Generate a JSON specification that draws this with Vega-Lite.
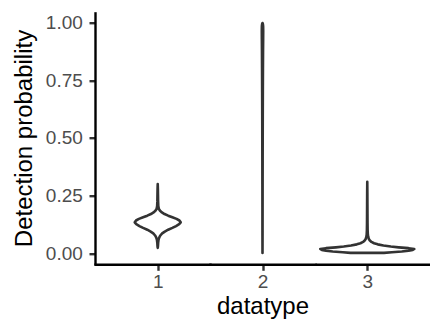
{
  "$schema": "https://vega.github.io/schema/vega-lite/v6.json",
  "padding": {"left": 12, "top": 11.7, "right": 0, "bottom": 0},
  "background": "white",
  "data": {"values": [
    {"datatype": 1, "value": 0.023, "density": 0.0},
    {"datatype": 1, "value": 0.03, "density": 0.004},
    {"datatype": 1, "value": 0.045, "density": 0.008},
    {"datatype": 1, "value": 0.058, "density": 0.015},
    {"datatype": 1, "value": 0.068, "density": 0.028},
    {"datatype": 1, "value": 0.077, "density": 0.05},
    {"datatype": 1, "value": 0.086, "density": 0.085},
    {"datatype": 1, "value": 0.094, "density": 0.135},
    {"datatype": 1, "value": 0.102, "density": 0.2},
    {"datatype": 1, "value": 0.11, "density": 0.28},
    {"datatype": 1, "value": 0.118, "density": 0.35},
    {"datatype": 1, "value": 0.126, "density": 0.41},
    {"datatype": 1, "value": 0.134, "density": 0.44},
    {"datatype": 1, "value": 0.142, "density": 0.415},
    {"datatype": 1, "value": 0.149, "density": 0.36},
    {"datatype": 1, "value": 0.156, "density": 0.28},
    {"datatype": 1, "value": 0.163, "density": 0.2},
    {"datatype": 1, "value": 0.17, "density": 0.13},
    {"datatype": 1, "value": 0.177, "density": 0.08},
    {"datatype": 1, "value": 0.184, "density": 0.045},
    {"datatype": 1, "value": 0.192, "density": 0.022},
    {"datatype": 1, "value": 0.205, "density": 0.011},
    {"datatype": 1, "value": 0.225, "density": 0.007},
    {"datatype": 1, "value": 0.255, "density": 0.005},
    {"datatype": 1, "value": 0.28, "density": 0.003},
    {"datatype": 1, "value": 0.3, "density": 0.0},
    {"datatype": 2, "value": 0.001, "density": 0.0},
    {"datatype": 2, "value": 0.1, "density": 0.0012},
    {"datatype": 2, "value": 0.2, "density": 0.0016},
    {"datatype": 2, "value": 0.3, "density": 0.0022},
    {"datatype": 2, "value": 0.4, "density": 0.003},
    {"datatype": 2, "value": 0.5, "density": 0.004},
    {"datatype": 2, "value": 0.6, "density": 0.005},
    {"datatype": 2, "value": 0.7, "density": 0.0065},
    {"datatype": 2, "value": 0.8, "density": 0.0085},
    {"datatype": 2, "value": 0.88, "density": 0.0105},
    {"datatype": 2, "value": 0.93, "density": 0.0125},
    {"datatype": 2, "value": 0.965, "density": 0.0135},
    {"datatype": 2, "value": 0.985, "density": 0.012},
    {"datatype": 2, "value": 0.995, "density": 0.007},
    {"datatype": 2, "value": 0.999, "density": 0.0},
    {"datatype": 3, "value": 0.0015, "density": 0.32},
    {"datatype": 3, "value": 0.004, "density": 0.47},
    {"datatype": 3, "value": 0.0075, "density": 0.66},
    {"datatype": 3, "value": 0.011, "density": 0.79},
    {"datatype": 3, "value": 0.0145, "density": 0.87},
    {"datatype": 3, "value": 0.0185, "density": 0.9},
    {"datatype": 3, "value": 0.022, "density": 0.79},
    {"datatype": 3, "value": 0.0255, "density": 0.6},
    {"datatype": 3, "value": 0.029, "density": 0.45},
    {"datatype": 3, "value": 0.0335, "density": 0.31},
    {"datatype": 3, "value": 0.0385, "density": 0.2},
    {"datatype": 3, "value": 0.0435, "density": 0.13},
    {"datatype": 3, "value": 0.049, "density": 0.08},
    {"datatype": 3, "value": 0.055, "density": 0.05},
    {"datatype": 3, "value": 0.062, "density": 0.03},
    {"datatype": 3, "value": 0.071, "density": 0.018},
    {"datatype": 3, "value": 0.081, "density": 0.011},
    {"datatype": 3, "value": 0.101, "density": 0.007},
    {"datatype": 3, "value": 0.131, "density": 0.005},
    {"datatype": 3, "value": 0.171, "density": 0.004},
    {"datatype": 3, "value": 0.211, "density": 0.003},
    {"datatype": 3, "value": 0.261, "density": 0.002},
    {"datatype": 3, "value": 0.31, "density": 0.0}
  ]},
  "spacing": 0,
  "resolve": {"scale": {"x": "independent", "y": "independent"}},
  "hconcat": [
    {
      "width": 115,
      "height": 252.6,
      "transform": [{"filter": "datum.datatype == 1"}],
      "mark": {"type": "area", "orient": "horizontal", "fill": "white", "fillOpacity": 1, "stroke": "#333333", "strokeWidth": 2.6, "strokeJoin": "round"},
      "encoding": {
        "y": {
          "field": "value",
          "type": "quantitative",
          "title": "Detection probability",
          "scale": {"domain": [-0.048, 1.048], "nice": false, "zero": false},
          "axis": {
            "values": [0, 0.25, 0.5, 0.75, 1],
            "format": ".2f",
            "grid": false,
            "domainColor": "black",
            "domainWidth": 2.4,
            "tickColor": "#333333",
            "tickWidth": 2.4,
            "tickSize": 6,
            "labelPadding": 6.7,
            "labelFont": "Liberation Sans",
            "labelFontSize": 19,
            "labelColor": "#4D4D4D",
            "titleFont": "Liberation Sans",
            "titleFontSize": 24,
            "titleFontWeight": "normal",
            "titleColor": "black",
            "titlePadding": 8.9
          }
        },
        "x": {
          "field": "density",
          "type": "quantitative",
          "stack": "center",
          "impute": null,
          "scale": {"domain": [-0.38, 0.72], "nice": false, "zero": false},
          "axis": {
            "values": [0.22],
            "labelExpr": "'1'",
            "title": null,
            "grid": false,
            "domainColor": "black",
            "domainWidth": 2.4,
            "domainCap": "square",
            "tickSize": 6,
            "tickWidth": 2.4,
            "tickColor": "#333333",
            "labelPadding": 2,
            "labelFont": "Liberation Sans",
            "labelFontSize": 19,
            "labelColor": "#4D4D4D"
          }
        }
      }
    },
    {
      "width": 105,
      "height": 252.6,
      "transform": [{"filter": "datum.datatype == 2"}],
      "mark": {"type": "area", "orient": "horizontal", "fill": "white", "fillOpacity": 1, "stroke": "#333333", "strokeWidth": 2.6, "strokeJoin": "round"},
      "encoding": {
        "y": {
          "field": "value",
          "type": "quantitative",
          "scale": {"domain": [-0.048, 1.048], "nice": false, "zero": false},
          "axis": null
        },
        "x": {
          "field": "density",
          "type": "quantitative",
          "stack": "center",
          "impute": null,
          "title": "datatype",
          "scale": {"domain": [-0.49325, 0.50675], "nice": false, "zero": false},
          "axis": {
            "values": [0.00675],
            "labelExpr": "'2'",
            "grid": false,
            "domainColor": "black",
            "domainWidth": 2.4,
            "domainCap": "square",
            "tickSize": 6,
            "tickWidth": 2.4,
            "tickColor": "#333333",
            "labelPadding": 2,
            "labelFont": "Liberation Sans",
            "labelFontSize": 19,
            "labelColor": "#4D4D4D",
            "titleFont": "Liberation Sans",
            "titleFontSize": 24,
            "titleFontWeight": "normal",
            "titleColor": "black",
            "titlePadding": 3
          }
        }
      }
    },
    {
      "width": 115,
      "height": 252.6,
      "transform": [{"filter": "datum.datatype == 3"}],
      "mark": {"type": "area", "orient": "horizontal", "fill": "white", "fillOpacity": 1, "stroke": "#333333", "strokeWidth": 2.6, "strokeJoin": "round"},
      "encoding": {
        "y": {
          "field": "value",
          "type": "quantitative",
          "scale": {"domain": [-0.048, 1.048], "nice": false, "zero": false},
          "axis": null
        },
        "x": {
          "field": "density",
          "type": "quantitative",
          "stack": "center",
          "impute": null,
          "scale": {"domain": [-0.05, 1.05], "nice": false, "zero": false},
          "axis": {
            "values": [0.45],
            "labelExpr": "'3'",
            "title": null,
            "grid": false,
            "domainColor": "black",
            "domainWidth": 2.4,
            "tickSize": 6,
            "tickWidth": 2.4,
            "tickColor": "#333333",
            "labelPadding": 2,
            "labelFont": "Liberation Sans",
            "labelFontSize": 19,
            "labelColor": "#4D4D4D"
          }
        }
      }
    }
  ],
  "config": {
    "view": {"stroke": null},
    "font": "Liberation Sans"
  }
}
